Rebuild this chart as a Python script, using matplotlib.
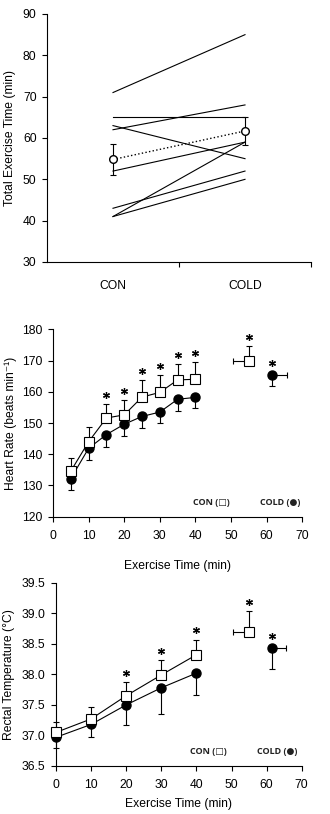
import matplotlib
matplotlib.use("Agg")
import matplotlib.pyplot as plt
import numpy as np

plt.rcParams['font.family'] = ['Liberation Sans', 'DejaVu Sans']
plt.rcParams['font.size'] = 8.7

# ---------------- Panel 1 data ----------------
conditions = ["CON", "COLD"]
ind_con = [71, 65, 62, 63, 52, 41, 43, 41]
ind_cold = [85, 65, 68, 55, 59, 59, 52, 50]
mean_time = [54.8, 61.7]
se_time = [3.8, 3.5]

# ---------------- Panel 2 data (heart rate) ----------------
hr_time = [5, 10, 15, 20, 25, 30, 35, 40]
hr_con = [134.6, 144.0, 151.6, 152.6, 158.3, 159.8, 163.8, 164.0]
hr_con_se = [4.1, 4.6, 4.4, 4.9, 5.6, 5.5, 5.1, 5.6]
hr_cold = [132.2, 141.9, 146.3, 149.6, 152.1, 153.5, 157.6, 158.2]
hr_cold_se = [3.7, 3.6, 3.9, 3.8, 3.6, 3.6, 3.7, 3.5]
hr_con_end = [55.1, 170.0]      # time, value
hr_con_end_err = [4.5, 4.7]     # time SE, value SE
hr_cold_end = [61.5, 165.3]
hr_cold_end_err = [4.2, 3.6]
hr_sig = [15, 20, 25, 30, 35, 40]

# ---------------- Panel 3 data (rectal temperature) ----------------
tr_time = [0, 10, 20, 30, 40]
tr_con = [37.05, 37.27, 37.65, 37.99, 38.32]
tr_con_se = [0.17, 0.19, 0.22, 0.24, 0.24]
tr_cold = [36.97, 37.18, 37.50, 37.78, 38.02]
tr_cold_se = [0.17, 0.20, 0.33, 0.43, 0.35]
tr_con_end = [55.0, 38.70]
tr_con_end_err = [4.5, 0.33]
tr_cold_end = [61.5, 38.43]
tr_cold_end_err = [4.0, 0.34]
tr_sig = [20, 30, 40]

W, H = 330, 814
fig = plt.figure(figsize=(W / 100, H / 100), dpi=100)

def axes_px(l, t, r, b):
    return fig.add_axes([l / W, 1 - b / H, (r - l) / W, (b - t) / H])

cap = 2.3

def style(ax):
    for s in ['top', 'right']:
        ax.spines[s].set_visible(False)
    for s in ['left', 'bottom']:
        ax.spines[s].set_linewidth(0.8)
    ax.tick_params(direction='out', length=3.5, width=0.8, pad=4)

legend_font = ['Open Sans', 'DejaVu Sans']

# ---------------- Panel 1 ----------------
ax1 = axes_px(47, 14, 311, 262)
style(ax1)
xpos = [1, 2]
for a, b in zip(ind_con, ind_cold):
    ax1.plot(xpos, [a, b], color='black', lw=0.8)
ax1.errorbar(xpos, mean_time, yerr=se_time, fmt='o', ls=':', color='black',
             mfc='white', mec='black', ms=5.5, lw=1.0, elinewidth=0.8,
             capsize=cap, capthick=0.8, zorder=5)
ax1.set_xlim(0.5, 2.5)
ax1.set_ylim(30, 90)
ax1.set_yticks(np.arange(30, 91, 10))
ax1.set_xticks(xpos)
ax1.set_xticklabels(conditions)
ax1.tick_params(axis='x', length=0, pad=13)
ax1.set_xticks([1.5, 2.5], minor=True)
ax1.tick_params(axis='x', which='minor', length=3.5, width=0.8, direction='out')
ax1.set_ylabel("Total Exercise Time (min)")
ax1.yaxis.set_label_coords(-0.118, 0.5)

def star(ax, x, y, dy):
    ax.plot([x], [y + dy], marker=(6, 2, 0), ms=5, mew=0.9, color='black',
            ls='none', clip_on=False)

# ---------------- Panel 2 ----------------
ax2 = axes_px(53, 329.3, 302.3, 516.7)
style(ax2)
z = np.zeros(len(hr_time))
ax2.errorbar(hr_cold_end[0], hr_cold_end[1],
             xerr=[[0], [hr_cold_end_err[0]]], yerr=[[hr_cold_end_err[1]], [0]],
             fmt='o', color='black', ms=6.5, elinewidth=0.8, capsize=cap,
             capthick=0.8, zorder=4)
ax2.errorbar(hr_time, hr_cold, yerr=[hr_cold_se, z], fmt='-o', color='black',
             ms=6.5, lw=0.8, elinewidth=0.8, capsize=cap, capthick=0.8, zorder=4)
ax2.errorbar(hr_time, hr_con, yerr=[z, hr_con_se], fmt='-s', color='black',
             mfc='white', mec='black', mew=0.8, ms=6.5, lw=0.8, elinewidth=0.8,
             capsize=cap, capthick=0.8, zorder=5)
ax2.errorbar(hr_con_end[0], hr_con_end[1],
             xerr=[[hr_con_end_err[0]], [0]], yerr=[[0], [hr_con_end_err[1]]],
             fmt='s', color='black', mfc='white', mec='black', mew=0.8, ms=6.5,
             elinewidth=0.8, capsize=cap, capthick=0.8, zorder=5)
for t, v, s in zip(hr_time, hr_con, hr_con_se):
    if t in hr_sig:
        star(ax2, t, v + s, 2.9)
star(ax2, hr_con_end[0], hr_con_end[1] + hr_con_end_err[1], 2.9)
star(ax2, hr_cold_end[0], hr_cold_end[1], 4.0)
ax2.set_xlim(0, 70)
ax2.set_ylim(120, 180)
ax2.set_xticks(np.arange(0, 71, 10))
ax2.set_yticks(np.arange(120, 181, 10))
ax2.tick_params(axis='x', pad=6)
ax2.set_xlabel("Exercise Time (min)")
ax2.xaxis.set_label_coords(0.5, -0.23)
ax2.set_ylabel("Heart Rate (beats min\u207b\u00b9)")
ax2.yaxis.set_label_coords(-0.145, 0.5)
ax2.text(44.5, 124.5, "CON (\u25a1)", fontsize=6.5, fontweight='bold',
         ha='center', va='center', color='#222222', family=legend_font)
ax2.text(63.7, 124.5, "COLD (\u25cf)", fontsize=6.5, fontweight='bold',
         ha='center', va='center', color='#222222', family=legend_font)

# ---------------- Panel 3 ----------------
ax3 = axes_px(56, 582.7, 301.7, 766)
style(ax3)
z = np.zeros(len(tr_time))
ax3.errorbar(tr_cold_end[0], tr_cold_end[1],
             xerr=[[0], [tr_cold_end_err[0]]], yerr=[[tr_cold_end_err[1]], [0]],
             fmt='o', color='black', ms=6.5, elinewidth=0.8, capsize=cap,
             capthick=0.8, zorder=4)
e1 = ax3.errorbar(tr_time, tr_cold, yerr=[tr_cold_se, z], fmt='-o', color='black',
                  ms=6.5, lw=0.8, elinewidth=0.8, capsize=cap, capthick=0.8,
                  zorder=4)
e2 = ax3.errorbar(tr_time, tr_con, yerr=[z, tr_con_se], fmt='-s', color='black',
                  mfc='white', mec='black', mew=0.8, ms=6.5, lw=0.8,
                  elinewidth=0.8, capsize=cap, capthick=0.8, zorder=5)
for e in (e1, e2):
    for art in e.get_children():
        art.set_clip_on(False)
ax3.errorbar(tr_con_end[0], tr_con_end[1],
             xerr=[[tr_con_end_err[0]], [0]], yerr=[[0], [tr_con_end_err[1]]],
             fmt='s', color='black', mfc='white', mec='black', mew=0.8, ms=6.5,
             elinewidth=0.8, capsize=cap, capthick=0.8, zorder=5)
for t, v, s in zip(tr_time, tr_con, tr_con_se):
    if t in tr_sig:
        star(ax3, t, v + s, 0.16)
star(ax3, tr_con_end[0], tr_con_end[1] + tr_con_end_err[1], 0.16)
star(ax3, tr_cold_end[0], tr_cold_end[1], 0.2)
ax3.set_xlim(0, 70)
ax3.set_ylim(36.5, 39.5)
ax3.set_xticks(np.arange(0, 71, 10))
ax3.set_yticks(np.arange(36.5, 39.51, 0.5))
ax3.set_yticklabels([f"{v:.1f}" for v in np.arange(36.5, 39.51, 0.5)])
ax3.tick_params(axis='x', pad=6)
ax3.set_xlabel("Exercise Time (min)")
ax3.xaxis.set_label_coords(0.5, -0.175)
ax3.set_ylabel("Rectal Temperature (\u00b0C)")
ax3.yaxis.set_label_coords(-0.168, 0.5)
ax3.text(43.3, 36.74, "CON (\u25a1)", fontsize=6.5, fontweight='bold',
         ha='center', va='center', color='#222222', family=legend_font)
ax3.text(62.9, 36.74, "COLD (\u25cf)", fontsize=6.5, fontweight='bold',
         ha='center', va='center', color='#222222', family=legend_font)

fig.savefig("out.png", dpi=100)
